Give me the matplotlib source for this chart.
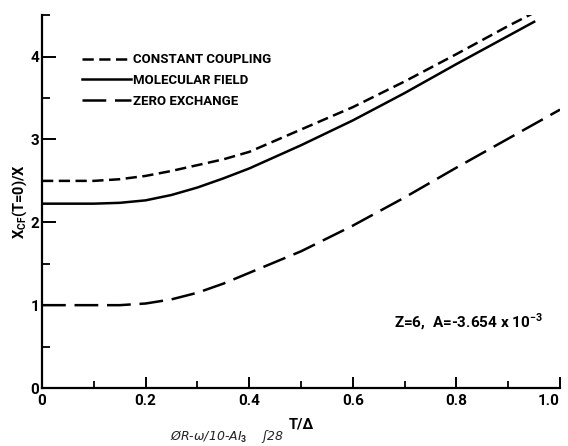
import matplotlib
matplotlib.use("Agg")
import matplotlib.pyplot as plt
from matplotlib.lines import Line2D
from matplotlib.ticker import MultipleLocator

plt.rcParams['font.family'] = ['Roboto', 'DejaVu Sans']
plt.rcParams['font.weight'] = 'bold'
plt.rcParams['mathtext.fontset'] = 'custom'
plt.rcParams['mathtext.rm'] = 'Roboto:bold'
plt.rcParams['mathtext.bf'] = 'Roboto:bold'

# Reduced temperature T/Delta
t_cc = [0.0, 0.10, 0.15, 0.20, 0.25, 0.30, 0.35, 0.40, 0.50, 0.60, 0.70, 0.80, 0.90, 0.95]
chi_cc = [2.50, 2.50, 2.52, 2.56, 2.62, 2.69, 2.76, 2.85, 3.12, 3.39, 3.70, 4.03, 4.37, 4.53]

t_mf = [0.0, 0.10, 0.15, 0.20, 0.25, 0.30, 0.35, 0.40, 0.50, 0.60, 0.70, 0.80, 0.90, 0.95]
chi_mf = [2.225, 2.225, 2.235, 2.265, 2.33, 2.42, 2.53, 2.65, 2.93, 3.23, 3.56, 3.91, 4.25, 4.42]

t_ze = [0.0, 0.10, 0.15, 0.20, 0.25, 0.30, 0.35, 0.40, 0.50, 0.60, 0.70, 0.80, 0.90, 1.00]
chi_ze = [1.00, 1.00, 1.00, 1.02, 1.07, 1.15, 1.26, 1.39, 1.65, 1.96, 2.30, 2.66, 3.01, 3.36]

labels = ["CONSTANT COUPLING", "MOLECULAR FIELD", "ZERO EXCHANGE"]
x_ticks = [0, 0.2, 0.4, 0.6, 0.8, 1.0]
x_ticklabels = ["0", "0.2", "0.4", "0.6", "0.8", "1.0"]
y_ticks = [0, 1, 2, 3, 4]
y_ticklabels = ["0", "1", "2", "3", "4"]

fig = plt.figure(figsize=(5.68, 4.46), dpi=100)
ax = fig.add_axes([0.074, 0.130, 0.912, 0.836])

lw = 1.8
styles = [(0, (4.5, 2.2)), '-', (0, (9.5, 3.5))]
ax.plot(t_cc, chi_cc, color='black', lw=lw, linestyle=styles[0])
ax.plot(t_mf, chi_mf, color='black', lw=lw, linestyle=styles[1])
ax.plot(t_ze, chi_ze, color='black', lw=lw, linestyle=styles[2])

ax.set_xlim(0, 1.0)
ax.set_ylim(0, 4.5)

for side in ('top', 'right'):
    ax.spines[side].set_visible(False)
for side in ('left', 'bottom'):
    ax.spines[side].set_linewidth(1.6)

ax.set_xticks(x_ticks)
ax.set_xticklabels(x_ticklabels)
ax.set_yticks(y_ticks)
ax.set_yticklabels(y_ticklabels)
ax.xaxis.set_minor_locator(MultipleLocator(0.1))
ax.yaxis.set_minor_locator(MultipleLocator(0.5))
ax.tick_params(axis='both', which='major', direction='in', width=1.4, labelsize=11)
ax.tick_params(axis='x', which='major', length=8, pad=4)
ax.tick_params(axis='y', which='major', length=10, pad=2)
ax.tick_params(axis='x', which='minor', direction='in', length=5, width=1.3)
ax.tick_params(axis='y', which='minor', direction='in', length=6, width=1.3)
ax.get_xticklabels()[-1].set_horizontalalignment('right')

ax.set_xlabel("T/Δ", fontsize=10.5, fontweight='bold', labelpad=7)
ax.set_ylabel("X$_{\\mathbf{CF}}$(T=0)/X", fontsize=10.5, fontweight='bold', labelpad=1)

handles = [Line2D([0], [0], color='black', lw=lw, linestyle=s) for s in styles]
ax.legend(handles, labels, loc='upper left', bbox_to_anchor=(0.055, 0.93),
          frameon=False, handlelength=3.7, handletextpad=0.15, labelspacing=0.6,
          prop={'size': 9.5, 'weight': 'bold'})

ax.text(0.68, 0.80, "Z=6,  A=-3.654 x 10$^{\\mathbf{-3}}$", fontsize=11,
        fontweight='bold', va='center', ha='left')

fig.text(0.30, 0.022, "ØR-ω/10-AI$_3$    ʃ28", fontsize=9, style='italic',
         fontweight='normal', family=['DejaVu Sans'], ha='left', va='center',
         color='#222222')

fig.savefig("out.png", dpi=100)
